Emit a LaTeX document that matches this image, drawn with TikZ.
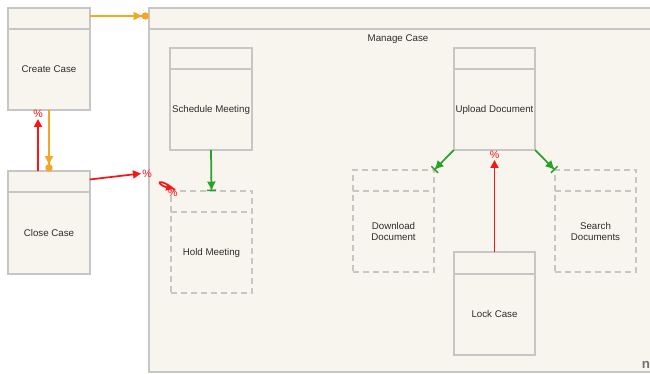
\documentclass[tikz,border=0pt]{standalone}
\usepackage{fontspec}
\setmainfont{Liberation Sans}
\usetikzlibrary{arrows.meta,calc}
\definecolor{bgc}{RGB}{247,245,237}
\definecolor{edgec}{RGB}{198,198,198}
\definecolor{txtc}{RGB}{45,45,45}
\definecolor{orc}{RGB}{245,166,35}
\definecolor{grc}{RGB}{44,160,44}
\definecolor{rdc}{RGB}{250,20,20}
\tikzset{
  cls/.style={draw=edgec, fill=bgc, line width=1.5pt, inner sep=0pt, outer sep=0pt,
    minimum width=61pt, minimum height=76.5pt},
  dcls/.style={cls, dash pattern=on 4.5pt off 3pt},
  hdr/.style={draw=edgec, line width=1.5pt},
  dhdr/.style={hdr, dash pattern=on 4.5pt off 3pt},
  txt/.style={text=txtc, align=center},
  orconn/.style={draw=orc, line width=1.3pt, -{Triangle[length=6pt,width=6pt] Circle[length=5.5pt]}},
  grconn/.style={draw=grc, line width=1.3pt, -{Triangle[length=6pt,width=6pt] Bar[width=7pt,line width=1.1pt]}},
  rdconn/.style={draw=rdc, line width=1.3pt, -{Triangle[length=6pt,width=6pt]}},
  pct/.style={text=rdc, inner sep=0pt, font=\fontsize{8}{9}\selectfont}
}
\begin{document}
\begin{tikzpicture}[x=0.75pt,y=-0.75pt,font=\fontsize{7.3}{8.8}\selectfont]
\useasboundingbox (0,0) rectangle (650,374);
\fill[white] (0,0) rectangle (650,374);
% container
\node[draw=edgec, fill=bgc, line width=1.5pt, inner sep=0pt, outer sep=0pt,
  minimum width=379.5pt, minimum height=273pt] (manage) at (402,190) {};
\draw[hdr] ($(manage.north west)+(0,21)$) -- ($(manage.north east)+(0,21)$);
\node[txt] (managelbl) at (398,39) {Manage Case};
\node[text=black!55, font=\bfseries\fontsize{10}{12}\selectfont, inner sep=0pt] (nlbl) at (646,365) {n};
% boxes
\node[cls, label={[txt,yshift=-7.9pt]center:Create Case}] (create) at (49,59) {};
\node[cls, label={[txt,yshift=-7.9pt]center:Close Case}] (close) at (49,222.5) {};
\node[cls, label={[txt,yshift=-7.9pt]center:Schedule Meeting}] (schedule) at (211,99) {};
\node[dcls, label={[txt,yshift=-7.9pt]center:Hold Meeting}] (hold) at (211.5,242) {};
\node[cls, label={[txt,yshift=-7.9pt]center:Upload Document}] (upload) at (494.5,99) {};
\node[dcls, label={[txt,yshift=-7.9pt]center:Download\\Document}] (download) at (393.5,221) {};
\node[dcls, label={[txt,yshift=-7.9pt]center:Search\\Documents}] (search) at (595.5,221) {};
\node[cls, label={[txt,yshift=-7.9pt]center:Lock Case}] (lock) at (494.5,303.5) {};
\foreach \n in {create,close,schedule,upload,lock}
  \draw[hdr] ($(\n.north west)+(0,21)$) -- ($(\n.north east)+(0,21)$);
\foreach \n in {hold,download,search}
  \draw[dhdr] ($(\n.north west)+(0,21)$) -- ($(\n.north east)+(0,21)$);
% connectors
\draw[orconn] ($(create.north east)+(0,8)$) -- ($(manage.north west)+(0,8)$);
\draw[orconn] (create.south) -- (close.north);
\coordinate (cctip) at ($(create.south)+(-11,9)$);
\draw[rdconn] ($(close.north)+(-11,0)$) -- (cctip);
\node[pct] (p1) at ($(create.south)+(-11,4)$) {\%};
\coordinate (mctip) at (141,173.5);
\draw[rdconn] ($(close.north east)+(0,8)$) -- (mctip);
\node[pct] (p2) at (147,174) {\%};
\coordinate (lp) at ($(hold.north west)+(4,-1)$);
\draw[draw=rdc, line width=1.3pt, -{Triangle[length=5pt,width=5pt]}]
  (lp) .. controls ($(lp)+(-17,-14)$) and ($(lp)+(-20,-6)$) .. ($(lp)+(-2,-1)$);
\node[pct] (p3) at ($(hold.north west)+(2,2)$) {\%};
\draw[grconn] (schedule.south) -- (hold.north);
\draw[grconn] (upload.south west) -- (download.north east);
\draw[grconn] (upload.south east) -- (search.north west);
\coordinate (ultip) at ($(upload.south)+(0,10)$);
\draw[rdconn] (lock.north) -- (ultip);
\node[pct] (p4) at ($(upload.south)+(0,5)$) {\%};
\end{tikzpicture}
\end{document}
